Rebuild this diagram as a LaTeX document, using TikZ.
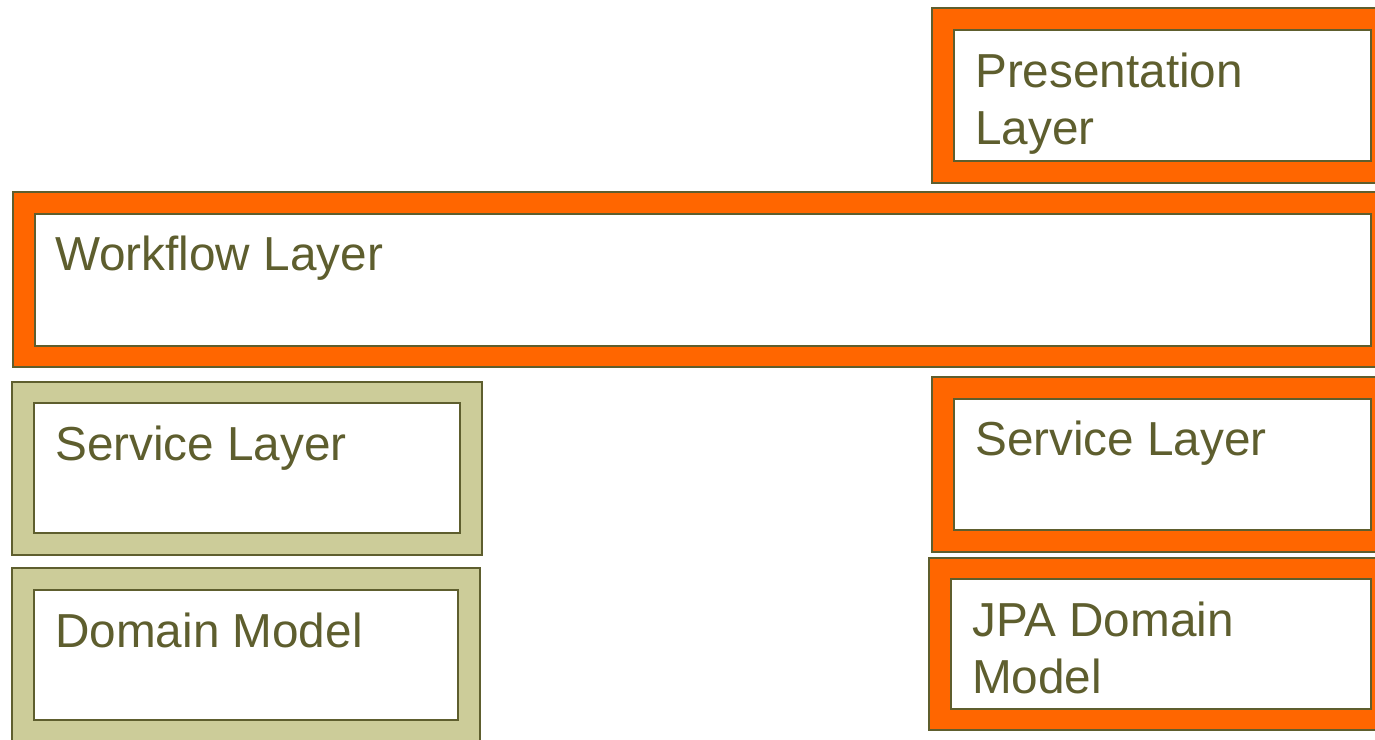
\documentclass[tikz,border=0pt]{standalone}
\usepackage{fontspec}
\setmainfont{Liberation Sans}
\definecolor{olive}{HTML}{5E5E2E}
\definecolor{orng}{HTML}{FF6600}
\definecolor{tan}{HTML}{CCCC99}
\tikzset{
  outerorange/.style={fill=orng,draw=olive,line width=2.5pt},
  outertan/.style={fill=tan,draw=olive,line width=2.5pt},
  innerbox/.style={fill=white,draw=olive,line width=2.2pt},
  lbl/.style={anchor=base west,inner sep=0pt,text=olive,font=\fontsize{47.7}{57}\selectfont,align=left}
}
\begin{document}
\begin{tikzpicture}[x=1pt,y=-1pt]
\useasboundingbox (0,0) rectangle (1375,739);
\clip (0,0) rectangle (1375,739);
\fill[white] (0,0) rectangle (1375,739);
% Presentation
\path[outerorange] (932,8) rectangle (1385,183);
\path[innerbox] (954,30) rectangle (1371,161);
\node[lbl] (pres) at (975,144) {Presentation\\Layer};
% Workflow
\path[outerorange] (13,192) rectangle (1385,367);
\path[innerbox] (35,214) rectangle (1371,346);
\node[lbl] (work) at (55,270) {Workflow Layer};
% Left service
\path[outertan] (12,382) rectangle (482,555);
\path[innerbox] (34,403) rectangle (460,533);
\node[lbl] (lserv) at (55,460) {Service Layer};
% Left domain
\path[outertan] (12,568) rectangle (480,750);
\path[innerbox] (34,590) rectangle (458,720);
\node[lbl] (ldom) at (55,647) {Domain Model};
% Right service
\path[outerorange] (932,377) rectangle (1385,552);
\path[innerbox] (954,399) rectangle (1371,530);
\node[lbl] (rserv) at (975,455) {Service Layer};
% JPA
\path[outerorange] (929,558) rectangle (1385,730);
\path[innerbox] (951,579) rectangle (1371,709);
\node[lbl] (jpa) at (972,693) {JPA Domain\\Model};
\end{tikzpicture}
\end{document}
